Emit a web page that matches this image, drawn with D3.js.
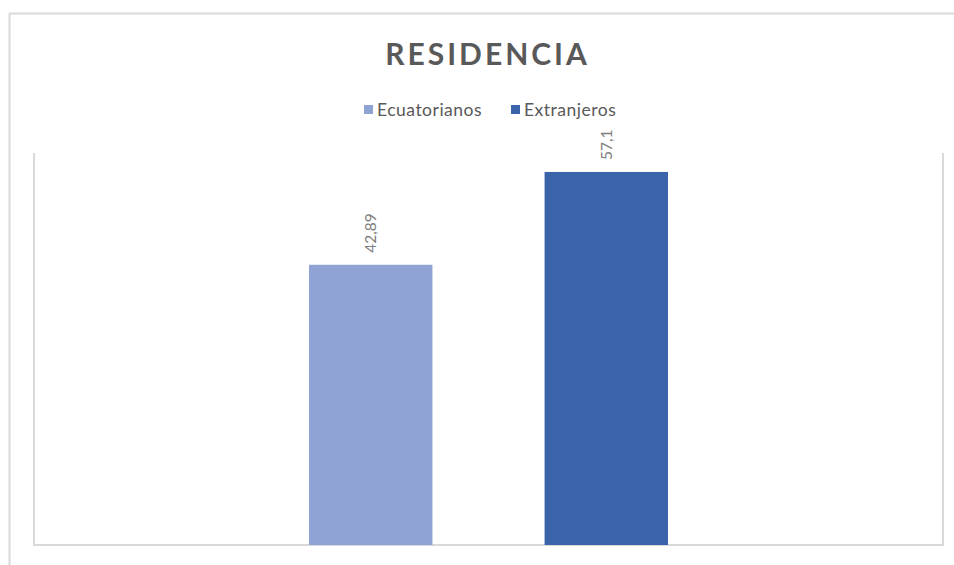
<!DOCTYPE html>
<html><head><meta charset="utf-8">
<script src="https://cdn.jsdelivr.net/npm/d3@7"></script>
<style>body{margin:0;background:#fff}svg{display:block}text{font-family:Lato,"Open Sans",sans-serif}</style>
</head><body>
<script>
const categories = ["Residencia"];
const seriesNames = ["Ecuatorianos", "Extranjeros"];
const seriesValues = [42.89, 57.1];
const valueLabels = ["42,89", "57,1"];
const seriesColors = ["#8FA3D4", "#3A63AA"];
const titleText = "RESIDENCIA";

const W = 954, H = 565;
const svg = d3.select("body").append("svg").attr("width", W).attr("height", H);

// outer chart border (cropped at right and bottom)
svg.append("path").attr("d", "M9.5,565 V13.5 H954").attr("fill", "none").attr("stroke", "#d9d9d9").attr("stroke-width", 2);

const plot = {left: 34, right: 943, top: 153, bottom: 545};
const y = d3.scaleLinear().domain([0, 60]).range([plot.bottom, plot.top]);
const x0 = d3.scaleBand().domain(categories).range([plot.left, plot.right]).paddingInner(0).paddingOuter(0.766);
const x1 = d3.scaleBand().domain(seriesNames).range([0, x0.bandwidth()]).paddingInner(0.476).paddingOuter(0);

// plot area frame
svg.append("path").attr("d", `M${plot.left},${plot.top} V${plot.bottom} H${plot.right} V${plot.top}`)
  .attr("fill", "none").attr("stroke", "#d9d9d9").attr("stroke-width", 2);

const data = seriesNames.map((s, i) => ({s, v: seriesValues[i], label: valueLabels[i], c: seriesColors[i]}));
const g = svg.append("g").attr("transform", `translate(${x0(categories[0])},0)`);
g.selectAll("rect").data(data).enter().append("rect")
  .attr("x", d => x1(d.s)).attr("width", x1.bandwidth())
  .attr("y", d => y(d.v)).attr("height", d => y(0) - y(d.v))
  .attr("fill", d => d.c);
g.selectAll("text.lbl").data(data).enter().append("text").attr("class", "lbl")
  .attr("transform", d => `translate(${x1(d.s) + x1.bandwidth() / 2 + 5.5},${y(d.v) - 12}) rotate(-90)`)
  .attr("font-size", 15.5).attr("fill", "#808080").text(d => d.label);

svg.append("text").attr("x", 487.5).attr("y", 65).attr("text-anchor", "middle")
  .attr("font-size", 30).attr("font-weight", "bold").attr("letter-spacing", 3).attr("fill", "#595959").text(titleText);

// legend
const leg = svg.append("g");
const legX = [364, 511];
data.forEach((d, i) => {
  leg.append("rect").attr("x", legX[i]).attr("y", 105).attr("width", 9).attr("height", 9).attr("fill", d.c);
  leg.append("text").attr("x", legX[i] + 13).attr("y", 116).attr("font-size", 17.5).attr("letter-spacing", 0.5).attr("fill", "#595959").text(d.s);
});
</script>
</body></html>
